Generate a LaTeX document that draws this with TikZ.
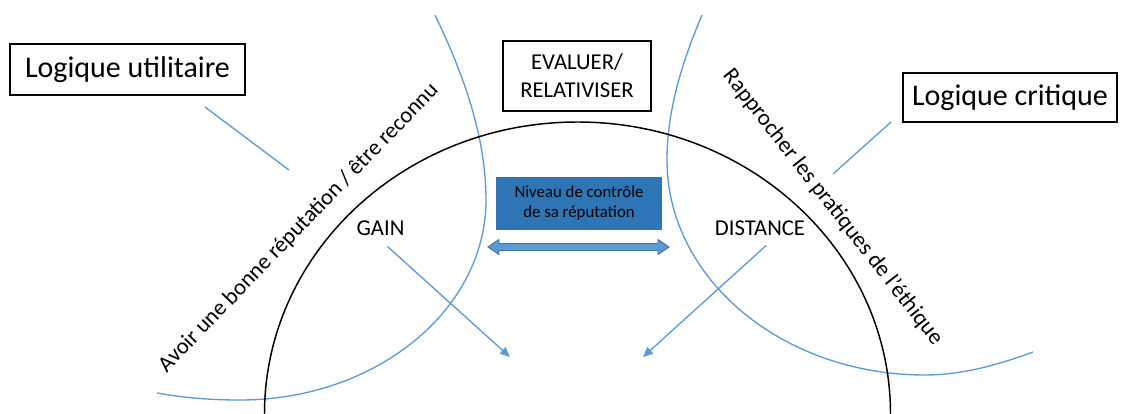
\documentclass[tikz,border=0pt]{standalone}
\usepackage{fontspec}
\setmainfont{Carlito}
\usepackage{tikz}
\usetikzlibrary{arrows.meta, positioning, calc}
\definecolor{lineblue}{HTML}{5B9BD5}
\definecolor{boxblue}{HTML}{2E75B6}
\definecolor{arrowedge}{HTML}{41719C}

\begin{document}
\begin{tikzpicture}[x=0.75pt, y=-0.75pt,
    logicbox/.style={draw, line width=1pt, inner sep=0pt, font=\fontsize{22.5}{27}\selectfont},
    plainlabel/.style={font=\fontsize{17}{21}\selectfont, inner sep=3pt},
    blueline/.style={lineblue, line width=1pt},
    bluearrow/.style={blueline, -{Triangle[length=7.5pt, width=6.5pt]}}]
  \useasboundingbox (0,0) rectangle (1122,414);

  % the two logics
  \draw[blueline] (435,15) .. controls (463,73) and (486,136) .. (486,200)
    .. controls (486,310) and (376,400) .. (240,400)
    .. controls (205,400) and (180,397) .. (157,393);
  \draw[blueline] (702,15) .. controls (682.5,61) and (667,110) .. (667,160)
    .. controls (667,279) and (782.6,375) .. (925,375)
    .. controls (965,375) and (1003,363) .. (1033,352);

  % half circle
  \draw[line width=1.1pt] (264.5,414) arc[start angle=180, end angle=360, x radius=313, y radius=292];

  % boxes
  \node[logicbox, minimum width=176.25pt, minimum height=38.25pt] (util) at (127.5,69.5) {Logique utilitaire};
  \node[logicbox, minimum width=160.5pt, minimum height=36.75pt] (crit) at (1010,97.5) {Logique critique};
  \node[draw, line width=1pt, minimum width=111pt, minimum height=52.5pt, align=center, font=\fontsize{17}{21}\selectfont] (eval) at (577,76) {EVALUER/\\RELATIVISER};
  \node[fill=boxblue, minimum width=124.5pt, minimum height=39.75pt, align=center, font=\fontsize{12.6}{15}\selectfont] (ctrl) at (579,203.5) {Niveau de contrôle\\de sa réputation};

  % double arrow under the box
  \draw[arrowedge, fill=lineblue, line width=0.7pt] (488,247) -- (499,239.5) -- (499,243.5) -- (658,243.5) -- (658,239.5) -- (669,247) -- (658,254.5) -- (658,250.5) -- (499,250.5) -- (499,254.5) -- cycle;

  % labels
  \node[plainlabel] (gain) at (380.5,228.5) {GAIN};
  \node[plainlabel] (dist) at (760,228.5) {DISTANCE};
  \node[plainlabel, rotate=46, anchor=base] (goodrep) at (303,232) {Avoir une bonne réputation / être reconnu};
  \node[plainlabel, rotate=-52, anchor=base] (ethics) at (828,211) {Rapprocher les pratiques de l'éthique};

  % pointers
  \coordinate (ua) at (205,107);
  \coordinate (ub) at (289,170);
  \coordinate (ca) at (891,122);
  \coordinate (cb) at (833,174);
  \draw[blueline] (ua) -- (ub);
  \draw[blueline] (ca) -- (cb);

  \coordinate (gaintip) at (510,357);
  \coordinate (disttip) at (643,357);
  \draw[bluearrow, shorten <=7pt] (gain.south) -- (gaintip);
  \draw[bluearrow, shorten <=6pt] ([xshift=9pt]dist.south) -- (disttip);
\end{tikzpicture}
\end{document}
